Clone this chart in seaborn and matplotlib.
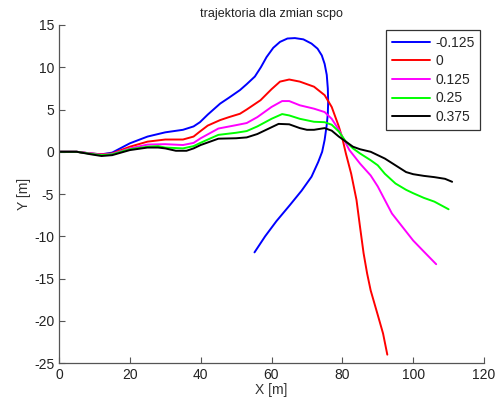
import numpy as np
import pandas as pd
import seaborn as sns
from matplotlib import pyplot as plt

# trajektorie
x_m0125 = [0, 5, 9, 12, 15, 20, 25, 30, 35, 38, 39.8, 42, 45.5, 48, 51.1, 53, 55.3, 57, 58.6, 60.5, 62.4, 64.5,
           66.6, 69, 71.3, 73, 74.2, 75, 75.6, 75.9, 76, 75.9, 75.6, 75.0, 74.3, 73.2, 71.3, 68.5, 65.2, 61.4,
           58.2, 55.2]
y_m0125 = [0, 0, -0.2, -0.3, -0.1, 1.0, 1.8, 2.3, 2.6, 3.0, 3.5, 4.4, 5.7, 6.4, 7.3, 8.0, 8.9, 10.0, 11.2, 12.3,
           13.0, 13.4, 13.45, 13.3, 12.8, 12.2, 11.4, 10.4, 9.1, 7.5, 5.9, 4.5, 3.2, 1.4, 0.0, -1.2, -2.95, -4.6,
           -6.3, -8.2, -10.0, -11.9]

x_0 = [0, 5, 9, 12, 15, 20, 25, 30, 35, 38, 39.8, 42, 45.5, 48, 51.1, 53, 56.9, 60, 62.4, 65, 68, 72, 75, 77,
       79, 80, 81, 82.5, 84, 85, 86, 87, 88, 90, 91.5, 92.7]
y_0 = [0, 0, -0.2, -0.3, -0.2, 0.6, 1.2, 1.45, 1.45, 1.8, 2.4, 3.1, 3.75, 4.1, 4.5, 5.0, 6.1, 7.4, 8.3, 8.55,
       8.3, 7.7, 6.7, 5.3, 3.0, 1.6, -0.2, -2.6, -5.7, -8.9, -12.0, -14.4, -16.4, -19.3, -21.5, -24.0]

x_0125 = [0, 5, 9, 12, 15, 20, 25, 30, 35, 38, 40, 45, 50, 53, 56, 60, 63, 65, 68, 72, 75, 77, 79, 80, 82,
          85, 88, 90, 92, 94, 97, 100, 103, 106.5]
y_0125 = [0, 0, -0.2, -0.35, -0.25, 0.4, 0.85, 0.9, 0.8, 1.05, 1.6, 2.75, 3.15, 3.4, 4.1, 5.3, 6.0, 6.0, 5.5,
          5.1, 4.7, 3.9, 2.6, 1.8, 0.2, -1.4, -2.8, -4.1, -5.7, -7.3, -8.9, -10.5, -11.8, -13.3]

x_025 = [0, 5, 9, 12, 15, 20, 25, 28, 30, 35, 38, 40, 45, 50, 53, 56, 60, 63, 65, 68, 72, 75, 77, 79, 81,
         83, 85, 88, 90, 92, 95, 98, 100, 103, 106, 110]
y_025 = [0, 0, -0.25, -0.4, -0.3, 0.3, 0.6, 0.67, 0.5, 0.4, 0.67, 1.07, 2.0, 2.25, 2.45, 3.0, 3.9, 4.46, 4.3,
         3.9, 3.55, 3.5, 3.2, 2.4, 1.2, 0.4, -0.2, -1.0, -1.6, -2.6, -3.75, -4.5, -4.9, -5.45, -5.9, -6.8]

x_0375 = [0, 5, 9, 12, 15, 20, 25, 28, 30, 33, 36, 38, 40, 45, 50, 53, 56, 60, 62, 65, 68, 70, 72, 75, 77,
          79, 81, 83, 85, 88, 90, 92, 95, 98, 100, 103, 106, 109, 111]
y_0375 = [0, 0, -0.3, -0.5, -0.4, 0.2, 0.5, 0.5, 0.4, 0.12, 0.12, 0.4, 0.8, 1.55, 1.6, 1.7, 2.1, 2.9, 3.3,
          3.25, 2.8, 2.6, 2.6, 2.8, 2.5, 1.8, 1.2, 0.6, 0.3, 0.0, -0.4, -0.8, -1.6, -2.4, -2.65, -2.85, -3.0,
          -3.2, -3.55]

labels = ['-0.125', '0', '0.125', '0.25', '0.375']
colors = ['#0000ff', '#ff0000', '#ff00ff', '#00ff00', '#000000']

frames = []
for lab, xs, ys in zip(labels, [x_m0125, x_0, x_0125, x_025, x_0375], [y_m0125, y_0, y_0125, y_025, y_0375]):
    frames.append(pd.DataFrame({'x': xs, 'y': ys, 'scpo': lab}))
df = pd.concat(frames, ignore_index=True)

sns.set_style('white')
plt.rcParams['font.family'] = ['Liberation Sans', 'DejaVu Sans']
plt.rcParams['axes.unicode_minus'] = False

fig = plt.figure(figsize=(5, 4.03), dpi=100)
ax = fig.add_axes([0.118, 0.099, 0.85, 0.839])
sns.lineplot(data=df, x='x', y='y', hue='scpo', hue_order=labels, palette=dict(zip(labels, colors)),
             sort=False, estimator=None, linewidth=1.4, ax=ax)

ax.set_xlim(0, 120)
ax.set_ylim(-25, 15)
ax.set_xticks(np.arange(0, 121, 20))
ax.set_yticks(np.arange(-25, 16, 5))
ax.set_xlabel('X [m]', fontsize=10, color='#333333', labelpad=1)
ax.set_ylabel('Y [m]', fontsize=10, color='#333333', labelpad=2)
ax.set_title('trajektoria dla zmian scpo', fontsize=9, color='#222222', pad=6)
ax.tick_params(direction='in', length=4, width=0.8, colors='#555555', labelcolor='#222222', labelsize=10,
               left=True, bottom=True)
for s in ['top', 'right']:
    ax.spines[s].set_visible(False)
for s in ['left', 'bottom']:
    ax.spines[s].set_color('#555555')
    ax.spines[s].set_linewidth(0.9)

leg = ax.legend(loc='upper right', bbox_to_anchor=(0.991, 0.985), fontsize=10, frameon=True, fancybox=False,
                edgecolor='black', handlelength=2.75, borderpad=0.4, labelspacing=0.33, handletextpad=0.38,
                borderaxespad=0)
leg.get_frame().set_linewidth(0.9)

fig.savefig('out.png', dpi=100)
